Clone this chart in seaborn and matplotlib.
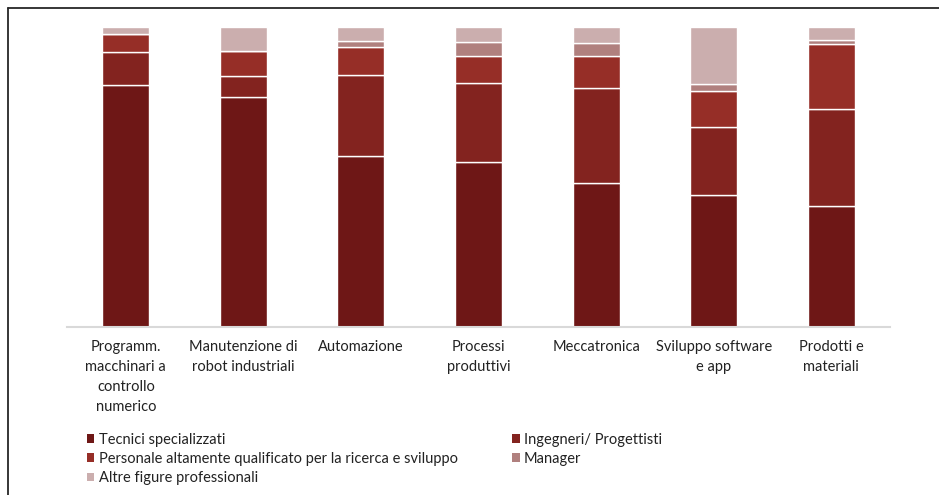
import matplotlib
matplotlib.use("Agg")
import matplotlib.pyplot as plt
from matplotlib.patches import Patch
from matplotlib.lines import Line2D
import numpy as np
import seaborn as sns

# Categories (x axis) and the share of each professional profile (%)
categories = [
    "Programm.\nmacchinari a\ncontrollo\nnumerico",
    "Manutenzione di\nrobot industriali",
    "Automazione",
    "Processi\nproduttivi",
    "Meccatronica",
    "Sviluppo software\ne app",
    "Prodotti e\nmateriali",
]
tecnici = [80.7, 76.7, 57.0, 55.0, 48.0, 44.1, 40.2]
ingegneri = [11.0, 6.9, 27.1, 26.2, 31.5, 22.6, 32.4]
ricerca = [6.0, 8.3, 9.0, 9.1, 10.9, 11.9, 21.7]
manager = [0.0, 0.0, 2.1, 4.5, 4.2, 2.2, 1.3]
altre = [2.3, 8.1, 4.8, 5.2, 5.4, 19.2, 4.4]

series_names = [
    "Tecnici specializzati",
    "Ingegneri/ Progettisti",
    "Personale altamente qualificato per la ricerca e sviluppo",
    "Manager",
    "Altre figure professionali",
]
series_values = [tecnici, ingegneri, ricerca, manager, altre]
series_colors = ["#6e1716", "#83231f", "#962e27", "#b0807e", "#cbaeae"]

sns.set_theme(style="white")
plt.rcParams["font.family"] = ["Lato", "DejaVu Sans"]
plt.rcParams["text.color"] = "#222222"

fig = plt.figure(figsize=(9.39, 4.95), dpi=100)
ax = fig.add_axes([0.0714, 0.3388, 0.8764, 0.6072])

bottom = np.zeros(len(categories))
for name, vals, col in zip(series_names, series_values, series_colors):
    vals = np.asarray(vals, dtype=float)
    sns.barplot(x=categories, y=vals, bottom=bottom, color=col, width=0.4,
                errorbar=None, edgecolor="white", linewidth=1.0, ax=ax,
                saturation=1)
    bottom = bottom + vals

ax.set_ylim(0, 100)
ax.set_xlim(-0.5, len(categories) - 0.5)
ax.set_xlabel("")
ax.set_ylabel("")
ax.set_yticks([])
for side in ["top", "right", "left"]:
    ax.spines[side].set_visible(False)
ax.spines["bottom"].set_color("#d9d9d9")
ax.spines["bottom"].set_linewidth(1.5)
ax.tick_params(axis="x", length=0, pad=9, labelsize=10.5, colors="#222222")
for lbl in ax.get_xticklabels():
    lbl.set_linespacing(1.55)

# Legend: two columns, small square markers
handles = [Patch(facecolor=c, edgecolor="none") for c in series_colors]
order = [0, 2, 4, 1, 3]
fig.legend([handles[i] for i in order], [series_names[i] for i in order],
           loc="upper left", bbox_to_anchor=(0.0925, 0.126), ncol=2,
           frameon=False, fontsize=10.5, handlelength=0.5, handleheight=0.5,
           handletextpad=0.3, columnspacing=3.75, labelspacing=0.35,
           borderaxespad=0, borderpad=0)

# Frame lines along the top and left edge
fig.add_artist(Line2D([8 / 939, 1], [1 - 8 / 495, 1 - 8 / 495],
                      transform=fig.transFigure, color="#262626", lw=1.3))
fig.add_artist(Line2D([8 / 939, 8 / 939], [0, 1 - 8 / 495],
                      transform=fig.transFigure, color="#262626", lw=1.3))

fig.savefig("out.png", dpi=100, facecolor="white")
